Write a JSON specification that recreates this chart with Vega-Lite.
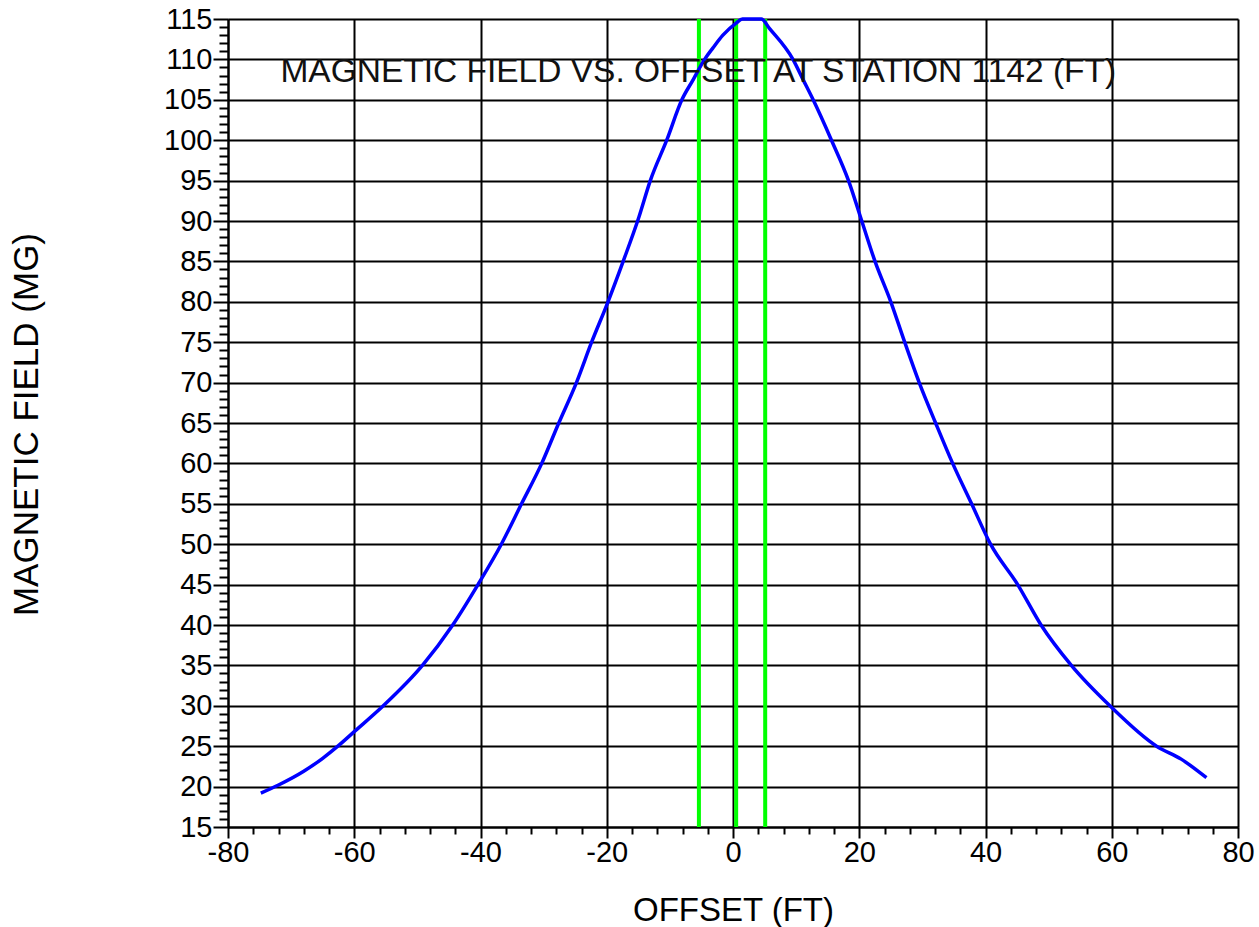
{
  "$schema": "https://vega.github.io/schema/vega-lite/v6.json",
  "autosize": "none",
  "width": 1010,
  "height": 808,
  "padding": {"left": 228, "top": 19, "right": 21, "bottom": 100},
  "background": "white",
  "config": {"view": {"stroke": null}},
  "datasets": {
    "curve": [
      {"offset": -74.8, "field": 19.2}, {"offset": -72, "field": 20.2}, {"offset": -68, "field": 21.9},
      {"offset": -65, "field": 23.5}, {"offset": -62.6, "field": 25}, {"offset": -60, "field": 26.8},
      {"offset": -55.4, "field": 30}, {"offset": -49.2, "field": 35}, {"offset": -44.4, "field": 40},
      {"offset": -40.4, "field": 45}, {"offset": -36.7, "field": 50}, {"offset": -33.5, "field": 55},
      {"offset": -30.3, "field": 60}, {"offset": -27.6, "field": 65}, {"offset": -24.8, "field": 70},
      {"offset": -22.4, "field": 75}, {"offset": -19.8, "field": 80}, {"offset": -17.4, "field": 85},
      {"offset": -14.9, "field": 90.5}, {"offset": -13.1, "field": 95},
      {"offset": -10.5, "field": 100}, {"offset": -8.1, "field": 105}, {"offset": -6.3, "field": 107.5},
      {"offset": -4.5, "field": 110}, {"offset": -3.2, "field": 111.4}, {"offset": -1.6, "field": 113},
      {"offset": 0.5, "field": 114.5}, {"offset": 1.5, "field": 115}, {"offset": 3, "field": 115},
      {"offset": 4.5, "field": 115}, {"offset": 5.8, "field": 113.8},
      {"offset": 9.5, "field": 110}, {"offset": 11.1, "field": 107.5},
      {"offset": 12.7, "field": 105}, {"offset": 15.6, "field": 100},
      {"offset": 18.3, "field": 95},
      {"offset": 20.4, "field": 90}, {"offset": 22.5, "field": 85}, {"offset": 25, "field": 80},
      {"offset": 27.2, "field": 75}, {"offset": 29.5, "field": 70}, {"offset": 32.1, "field": 65},
      {"offset": 34.8, "field": 60}, {"offset": 37.8, "field": 55}, {"offset": 40.8, "field": 50},
      {"offset": 45.1, "field": 45}, {"offset": 48.8, "field": 40}, {"offset": 53.6, "field": 35},
      {"offset": 59.7, "field": 30}, {"offset": 67.1, "field": 25}, {"offset": 71, "field": 23.4},
      {"offset": 75, "field": 21.1}
    ],
    "markers": [{"offset": -5.4}, {"offset": 0.5}, {"offset": 5.1}]
  },
  "resolve": {"axis": {"x": "independent", "y": "independent"}},
  "layer": [
    {
      "data": {"name": "curve"},
      "mark": {"type": "point", "opacity": 0},
      "encoding": {
        "x": {
          "field": "offset", "type": "quantitative",
          "scale": {"domain": [-80, 80], "nice": false, "zero": false},
          "axis": {
            "orient": "bottom",
            "values": [-76, -72, -68, -64, -56, -52, -48, -44, -36, -32, -28, -24, -16, -12, -8, -4, 4, 8, 12, 16, 24, 28, 32, 36, 44, 48, 52, 56, 64, 68, 72, 76],
            "labels": false, "grid": false, "domain": false, "title": null,
            "tickSize": 7, "tickWidth": 2, "tickColor": "#000"
          }
        },
        "y": {
          "field": "field", "type": "quantitative",
          "scale": {"domain": [15, 115], "nice": false, "zero": false},
          "axis": {
            "orient": "left",
            "values": [16, 17, 18, 19, 21, 22, 23, 24, 26, 27, 28, 29, 31, 32, 33, 34, 36, 37, 38, 39, 41, 42, 43, 44, 46, 47, 48, 49, 51, 52, 53, 54, 56, 57, 58, 59, 61, 62, 63, 64, 66, 67, 68, 69, 71, 72, 73, 74, 76, 77, 78, 79, 81, 82, 83, 84, 86, 87, 88, 89, 91, 92, 93, 94, 96, 97, 98, 99, 101, 102, 103, 104, 106, 107, 108, 109, 111, 112, 113, 114],
            "labels": false, "grid": false, "domain": false, "title": null,
            "tickSize": 9, "tickWidth": 2, "tickColor": "#000"
          }
        }
      }
    },
    {
      "data": {"name": "markers"},
      "mark": {"type": "rule", "color": "#00ff00", "strokeWidth": 4},
      "encoding": {
        "x": {"field": "offset", "type": "quantitative", "axis": null}
      }
    },
    {
      "data": {"name": "curve"},
      "mark": {"type": "line", "color": "#0000ff", "strokeWidth": 3.5, "interpolate": "monotone"},
      "encoding": {
        "x": {
          "field": "offset", "type": "quantitative",
          "scale": {"domain": [-80, 80], "nice": false, "zero": false},
          "axis": {
            "orient": "bottom",
            "values": [-80, -60, -40, -20, 0, 20, 40, 60, 80],
            "labelExpr": "toString(datum.value)",
            "grid": true, "gridColor": "#000", "gridWidth": 2, "gridOpacity": 1,
            "domain": true, "domainColor": "#000", "domainWidth": 2,
            "tickSize": 11, "tickWidth": 2, "tickColor": "#000",
            "labelFont": "Liberation Sans", "labelFontSize": 29, "labelColor": "#000",
            "labelPadding": 0, "labelOverlap": false, "labelFlush": false,
            "title": "OFFSET (FT)", "titleFont": "Liberation Sans", "titleFontSize": 33,
            "titleFontWeight": "normal", "titleColor": "#000",
            "titleX": 505, "titleY": 93, "titleAlign": "center", "titleBaseline": "alphabetic"
          }
        },
        "y": {
          "field": "field", "type": "quantitative",
          "scale": {"domain": [15, 115], "nice": false, "zero": false},
          "axis": {
            "orient": "left",
            "values": [15, 20, 25, 30, 35, 40, 45, 50, 55, 60, 65, 70, 75, 80, 85, 90, 95, 100, 105, 110, 115],
            "grid": true, "gridColor": "#000", "gridWidth": 2, "gridOpacity": 1,
            "domain": true, "domainColor": "#000", "domainWidth": 2,
            "tickSize": 15, "tickWidth": 2, "tickColor": "#000",
            "labelFont": "Liberation Sans", "labelFontSize": 29, "labelColor": "#000",
            "labelPadding": 1, "labelOverlap": false, "labelFlush": false, "labelBaseline": "middle",
            "title": "MAGNETIC FIELD (MG)", "titleFont": "Liberation Sans", "titleFontSize": 35,
            "titleFontWeight": "normal", "titleColor": "#000", "titleAngle": -90,
            "titleX": -191, "titleY": 405, "titleAlign": "center", "titleBaseline": "alphabetic"
          }
        }
      }
    },
    {
      "data": {"values": [{"label": "MAGNETIC FIELD VS. OFFSET AT STATION 1142 (FT)"}]},
      "mark": {"type": "text", "font": "Liberation Sans", "fontSize": 33.5, "color": "#111", "align": "center", "baseline": "alphabetic"},
      "encoding": {
        "x": {"datum": -5.5, "type": "quantitative", "axis": null},
        "y": {"datum": 107.2, "type": "quantitative", "axis": null},
        "text": {"field": "label", "type": "nominal"}
      }
    }
  ]
}
